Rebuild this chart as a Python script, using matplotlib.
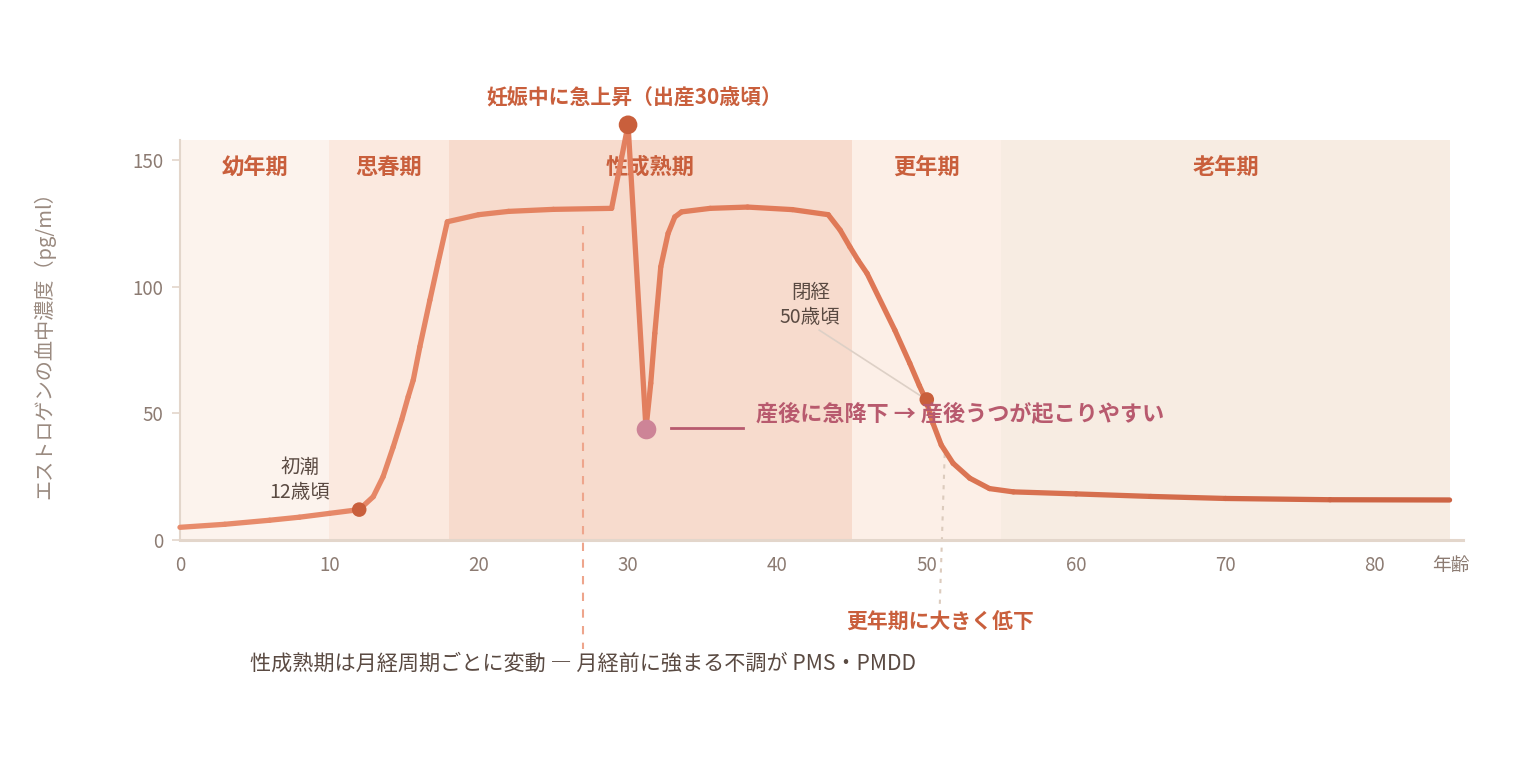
import numpy as np
import matplotlib
matplotlib.use('Agg')
import matplotlib.pyplot as plt
from matplotlib.collections import LineCollection
from matplotlib.colors import LinearSegmentedColormap

plt.rcParams['font.family'] = ['Noto Sans CJK JP', 'DejaVu Sans']

# estrogen curve (age, pg/ml)
ages = [0, 3, 6, 8, 10, 12, 12.94, 13.6, 14.28, 14.84, 15.28, 15.62, 16.06, 16.73,
        17.3, 17.9, 20, 22, 25, 28.9, 30, 31.2, 31.52, 31.79, 32.19, 32.68,
        33.13, 33.58, 35.5, 38, 41, 43.4, 44.2, 44.85, 45.4, 46, 47.86, 48.86,
        49.5, 49.93, 50.42, 50.97, 51.76, 52.88, 54.2, 55.8, 60, 65, 70, 77, 85]
levels = [5, 6.2, 7.8, 9, 10.5, 12, 17.1, 25, 36.8, 47.4, 56.6, 63.2, 76.3, 94.7,
          110, 125.7, 128.5, 129.8, 130.6, 131, 164, 44, 61.9, 81.6, 107.9, 121.1,
          127.6, 129.6, 131, 131.5, 130.5, 128.5, 122.4, 115.8, 110.5, 105.3, 82.9, 69.8,
          61, 55.5, 46, 37.5, 30.3, 24.4, 20.3, 19.0, 18.2, 17.2, 16.4, 15.9, 15.8]

marker_ages = [12, 30, 50]
marker_levels = [12, 164, 55.5]
dip_age, dip_level = 31.2, 44

stages = ['幼年期', '思春期', '性成熟期', '更年期', '老年期']
stage_start = [0, 10, 18, 45, 55]
stage_end = [10, 18, 45, 55, 85]
stage_colors = ['#fcf3ed', '#fbe9df', '#f7dbcd', '#fcefe7', '#f7ece2']

xticks = [0, 10, 20, 30, 40, 50, 60, 70, 80]
yticks = [0, 50, 100, 150]

tick_col = '#8c7b72'
spine_col = '#e3d6cb'
accent = '#c95f3c'
dark = '#5a4a42'
pink = '#b85a6e'

fig = plt.figure(figsize=(15.2, 7.6), dpi=100)
ax = fig.add_axes([0.1184, 0.2895, 0.8441, 0.5263])
ax.set_xlim(0, 85.9)
ax.set_ylim(0, 158)

for name, s, e, c in zip(stages, stage_start, stage_end, stage_colors):
    ax.axvspan(s, e, color=c, lw=0, zorder=0)
    ax.text((s + e) / 2, 147.3, name, ha='center', va='center', fontsize=16,
            fontweight='bold', color=accent, zorder=2)

# dashed guide for menstrual cycle note
ax.plot([27, 27], [124, -43], ls=(0, (4, 4)), color='#eea58c', lw=1.5,
        clip_on=False, zorder=1)
ax.text(27, -49, '性成熟期は月経周期ごとに変動 ― 月経前に強まる不調が PMS・PMDD',
        ha='center', va='center', fontsize=15.2, color=dark)

# dotted guide for menopause drop
ax.plot([51.2, 50.87], [34, -25.7], ls=(0, (2, 3)), color='#dccbbd', lw=1.5,
        clip_on=False, zorder=1)
ax.text(50.9, -32.4, '更年期に大きく低下', ha='center', va='center', fontsize=15,
        fontweight='bold', color=accent)

# gradient curve
pts = np.column_stack([ages, levels])
segs = np.stack([pts[:-1], pts[1:]], axis=1)
cmap = LinearSegmentedColormap.from_list('est', ['#e88d6d', '#e07a58', '#cb6242'])
lc = LineCollection(segs, cmap=cmap, linewidths=3.8, capstyle='round',
                    joinstyle='round', zorder=4, clip_on=False)
lc.set_array((pts[:-1, 0] + pts[1:, 0]) / 2)
lc.set_clim(0, 85)
ax.add_collection(lc)

ax.scatter(marker_ages, marker_levels, s=[110, 180, 110], color=accent, zorder=5,
           clip_on=False, lw=0)
ax.scatter([dip_age], [dip_level], s=200, color='#cd8497', zorder=5, lw=0)

ax.text(30.4, 175, '妊娠中に急上昇（出産30歳頃）', ha='center', va='center',
        fontsize=15, fontweight='bold', color=accent)
ax.text(8.03, 23.7, '初潮\n12歳頃', ha='center', va='center', fontsize=14,
        color=dark, linespacing=1.2, zorder=3)
ax.text(42.2, 92.8, '閉経\n50歳頃', ha='center', va='center', fontsize=14,
        color=dark, linespacing=1.2, zorder=3)
ax.plot([42.8, 49.7], [82.9, 56.5], color='#ddd0c6', lw=1.2, zorder=3)

ax.plot([32.9, 37.7], [44.2, 44.2], color=pink, lw=2, zorder=3)
ax.text(38.55, 50.1, '産後に急降下 → 産後うつが起こりやすい', ha='left', va='center',
        fontsize=15.9, fontweight='bold', color=pink, zorder=6)

ax.set_xticks(xticks)
ax.set_yticks(yticks)
ax.tick_params(axis='x', length=0, pad=11, labelsize=13.5, labelcolor=tick_col)
ax.tick_params(axis='y', length=6, width=1.2, color=spine_col, pad=6,
               labelsize=13.5, labelcolor=tick_col)
ax.text(85.1, -10, '年齢', ha='center', va='center', fontsize=13.5, color=tick_col)
ax.set_ylabel('エストロゲンの血中濃度（pg/ml）', fontsize=14.5, color='#9a8a80',
              labelpad=55)

for side in ['top', 'right']:
    ax.spines[side].set_visible(False)
ax.spines['left'].set_color(spine_col)
ax.spines['left'].set_linewidth(1.5)
ax.spines['bottom'].set_color(spine_col)
ax.spines['bottom'].set_linewidth(2.2)

fig.savefig('out.png', dpi=100, facecolor='white')
